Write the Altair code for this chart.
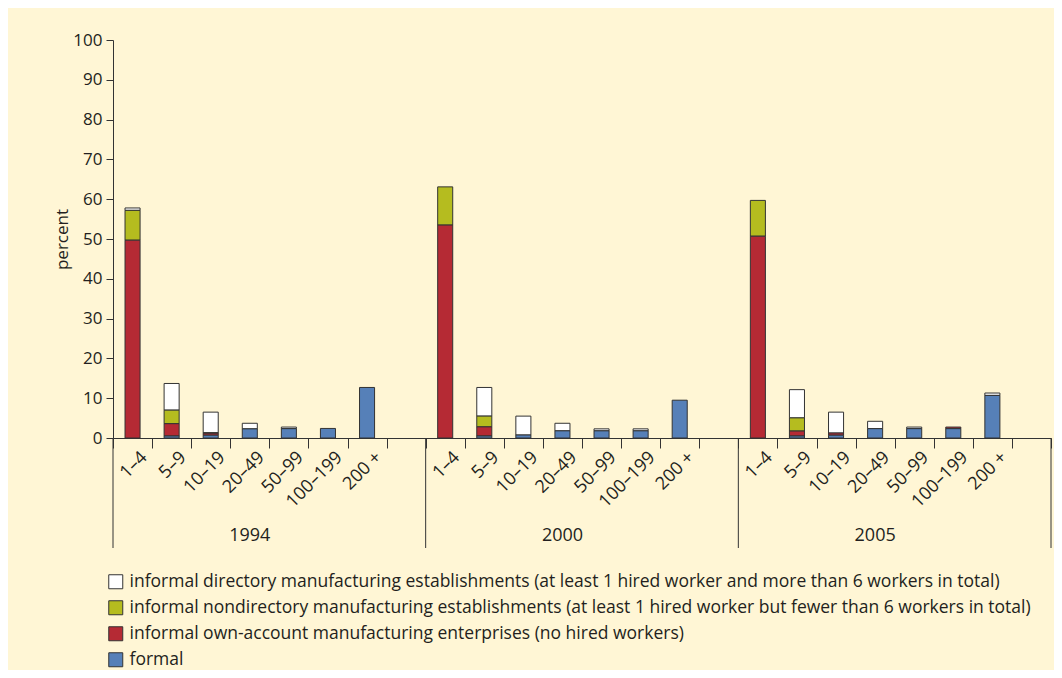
import altair as alt
import pandas as pd

years = ["1994", "2000", "2005"]
sizes = ["1–4", "5–9", "10–19", "20–49", "50–99", "100–199", "200 +"]

series = [
    "informal directory manufacturing establishments (at least 1 hired worker and more than 6 workers in total)",
    "informal nondirectory manufacturing establishments (at least 1 hired worker but fewer than 6 workers in total)",
    "informal own-account manufacturing enterprises (no hired workers)",
    "formal",
]
colors = ["#FFFFFF", "#B5BC1F", "#B52A34", "#5680B8"]

# values per size class (percent)
formal_1994 = [0, 0.5, 0.7, 2.3, 2.35, 2.4, 12.7]
own_1994 = [49.7, 3.1, 0.5, 0, 0, 0, 0]
nondir_1994 = [7.5, 3.4, 0.1, 0, 0, 0, 0]
dir_1994 = [0.6, 6.7, 5.2, 1.4, 0.4, 0, 0]

formal_2000 = [0, 0.5, 0.75, 1.8, 1.8, 1.8, 9.5]
own_2000 = [53.5, 2.3, 0, 0, 0, 0, 0]
nondir_2000 = [9.6, 2.7, 0, 0, 0, 0, 0]
dir_2000 = [0, 7.2, 4.75, 1.9, 0.5, 0.5, 0]

formal_2005 = [0, 0.5, 0.7, 2.35, 2.35, 2.35, 10.7]
own_2005 = [50.7, 1.25, 0.55, 0, 0, 0.4, 0]
nondir_2005 = [9.0, 3.3, 0, 0, 0, 0, 0]
dir_2005 = [0, 7.1, 5.25, 1.85, 0.4, 0, 0.6]

by_year = {
    "1994": [dir_1994, nondir_1994, own_1994, formal_1994],
    "2000": [dir_2000, nondir_2000, own_2000, formal_2000],
    "2005": [dir_2005, nondir_2005, own_2005, formal_2005],
}

rows = []
for y in years:
    for si, s in enumerate(series):
        vals = by_year[y][si]
        for i, sz in enumerate(sizes):
            v = vals[i]
            if v > 0:
                rows.append({"key": f"{y}|{sz}", "series": s, "value": v,
                             "rank": len(series) - si})
df = pd.DataFrame(rows)

domain = []
for y in years:
    domain += [f"{y}|{sz}" for sz in sizes] + [f"{y}|"]

W, H = 938, 398
INK = "#231F20"
LINE = "#333333"
FONT = "Open Sans"

xscale = alt.Scale(domain=domain, paddingInner=0, paddingOuter=0)

bars = alt.Chart(df).mark_bar(
    width=alt.RelativeBandSize(0.385), stroke=LINE, strokeWidth=1
).encode(
    x=alt.X("key:N", scale=xscale, sort=domain,
            axis=alt.Axis(title=None, labelExpr="split(datum.value, '|')[1]",
                          labelAngle=315, tickBand="extent", tickSize=10,
                          labelPadding=0, labelOffset=5, labelFontSize=18,
                          labelFont=FONT, labelColor=INK, domainColor=LINE,
                          tickColor=LINE, labelAlign="right",
                          labelBaseline="top")),
    y=alt.Y("value:Q", stack="zero",
            scale=alt.Scale(domain=[0, 100], nice=False),
            axis=alt.Axis(values=list(range(0, 101, 10)), title="percent",
                          grid=False, tickSize=7, labelPadding=4,
                          labelFontSize=17, labelFont=FONT, labelColor=INK,
                          domainColor=LINE, tickColor=LINE,
                          titleFont=FONT, titleFontSize=17,
                          titleFontWeight="normal", titleColor=INK,
                          titleX=-51, titleY=H / 2, titleAngle=270,
                          titleAlign="center", titleBaseline="middle")),
    color=alt.Color("series:N", scale=alt.Scale(domain=series, range=colors),
                    legend=alt.Legend(title=None, orient="none", legendX=-6,
                                      legendY=533, symbolType="square",
                                      symbolSize=196, symbolStrokeColor=LINE,
                                      symbolStrokeWidth=1, labelFontSize=17.5,
                                      labelFont=FONT, labelColor=INK,
                                      rowPadding=7, labelOffset=5,
                                      labelLimit=0, padding=0)),
    order=alt.Order("rank:Q", sort="ascending"),
)

div_start = pd.DataFrame({"key": [f"{y}|{sizes[0]}" for y in years]})
div_end = pd.DataFrame({"key": [f"{years[-1]}|"]})

rule_a = alt.Chart(div_start).mark_rule(color=LINE, strokeWidth=1).encode(
    x=alt.X("key:N", scale=xscale, bandPosition=0),
    y=alt.value(H), y2=alt.value(H + 110),
)
rule_b = alt.Chart(div_end).mark_rule(color=LINE, strokeWidth=1).encode(
    x=alt.X("key:N", scale=xscale, bandPosition=1),
    y=alt.value(H), y2=alt.value(H + 110),
)

year_df = pd.DataFrame({"key": [f"{y}|{sizes[3]}" for y in years], "year": years})
year_text = alt.Chart(year_df).mark_text(
    fontSize=18, font=FONT, color=INK, align="center", baseline="middle"
).encode(
    x=alt.X("key:N", scale=xscale),
    y=alt.value(H + 98),
    text="year:N",
)

chart = alt.layer(bars, rule_a, rule_b, year_text).properties(
    width=W, height=H,
    autosize=alt.AutoSizeParams(type="none"),
    padding={"left": 105, "top": 32, "right": 3, "bottom": 232},
    background="#FFF6D5",
).configure_view(stroke=None)

chart.save("out.html", embed_options={"renderer": "svg", "actions": False})
